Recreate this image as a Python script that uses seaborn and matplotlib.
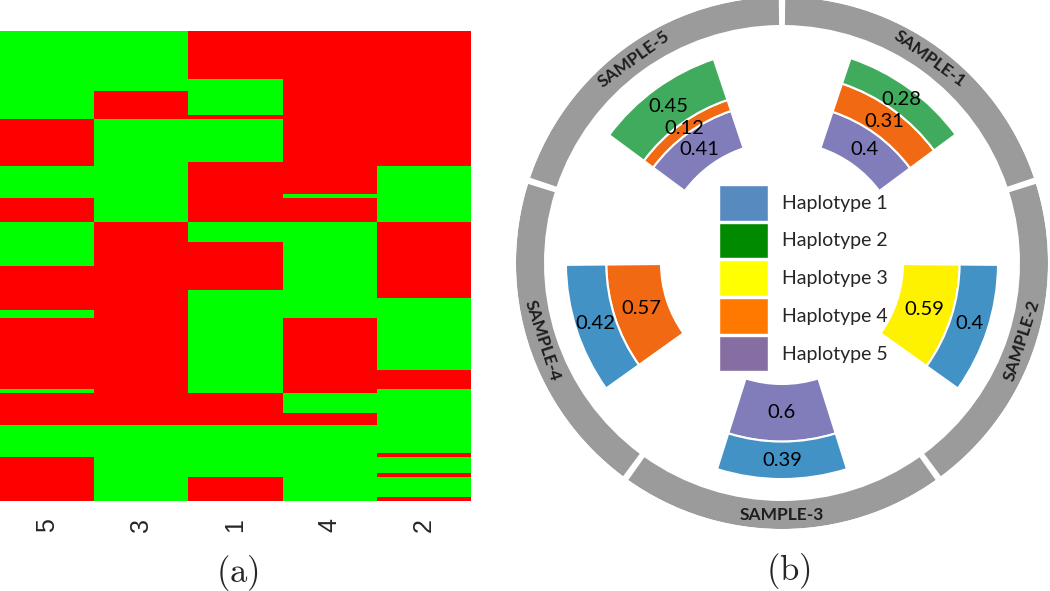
import numpy as np
import matplotlib
matplotlib.use('Agg')
import matplotlib.pyplot as plt
from matplotlib.colors import ListedColormap
from matplotlib.patches import Patch
import seaborn as sns

# ---- (a) heatmap: per column, runs of (value, number of rows); 1 = red, 0 = green
col_labels = ['5', '3', '1', '4', '2']
runs_5 = [(0, 22), (1, 12), (0, 8), (1, 6), (0, 11), (1, 11), (0, 2), (1, 18), (0, 1), (1, 8), (0, 8), (1, 11)]
runs_3 = [(0, 15), (1, 7), (0, 26), (1, 51), (0, 19)]
runs_1 = [(1, 12), (0, 9), (1, 1), (0, 11), (1, 15), (0, 5), (1, 12), (0, 26), (1, 8), (0, 13), (1, 6)]
runs_4 = [(1, 41), (0, 1), (1, 6), (0, 24), (1, 19), (0, 5), (1, 3), (0, 19)]
runs_2 = [(1, 34), (0, 14), (1, 19), (0, 18), (1, 5), (0, 16), (1, 1), (0, 4), (1, 1), (0, 5), (1, 1)]

# ---- (b) circular haplotype chart
samples = ['SAMPLE-1', 'SAMPLE-2', 'SAMPLE-3', 'SAMPLE-4', 'SAMPLE-5']
# haplotypes stacked from the inside out, with their fractions
stack_haps = [[5, 4, 2], [3, 1], [5, 1], [4, 1], [5, 4, 2]]
stack_vals = [[0.40, 0.31, 0.28], [0.59, 0.40], [0.60, 0.39], [0.57, 0.42], [0.41, 0.12, 0.45]]
hap_labels = ['Haplotype 1', 'Haplotype 2', 'Haplotype 3', 'Haplotype 4', 'Haplotype 5']

wedge_colors = {1: '#4292C6', 2: '#41AB5D', 3: '#FFF200', 4: '#F16913', 5: '#807DBA'}
legend_colors = ['#578BC0', '#008A00', '#FFFF00', '#FF7800', '#866EA2']

sns.set_style('white')
plt.rcParams['font.family'] = ['Lato', 'DejaVu Sans']
plt.rcParams['mathtext.fontset'] = 'cm'

fig = plt.figure(figsize=(10.5, 5.91), dpi=100)

# heatmap
ax_a = fig.add_axes([0.0, 0.1523, 0.4486, 0.7953])
cols = []
for runs in [runs_5, runs_3, runs_1, runs_4, runs_2]:
    vals = [v for v, n in runs]
    counts = [n for v, n in runs]
    cols.append(np.repeat(vals, counts))
mat = np.column_stack(cols)
sns.heatmap(mat, cmap=ListedColormap(['#00FF00', '#FF0000']), vmin=0, vmax=1,
            cbar=False, xticklabels=col_labels, yticklabels=False, ax=ax_a)
ax_a.tick_params(axis='x', length=0, pad=12, labelrotation=90)
for lab in ax_a.get_xticklabels():
    lab.set_fontfamily('Liberation Sans')
    lab.set_fontsize(18)

# polar chart
unit = 96.0                # pixels per unit fraction
r_in = 121 / unit          # inner radius of the stacks
ring_in, ring_out = 238 / unit, 266 / unit
ax_b = fig.add_axes([0.4914, 0.1049, 0.5067, 0.9002], projection='polar')
ax_b.set_ylim(0, ring_out)
ax_b.axis('off')

wedge_w = np.deg2rad(35)
for i, name in enumerate(samples):
    ang = 54 - 72 * i
    th = np.deg2rad(ang)
    # gray ring segment with its label
    ax_b.bar(th, ring_out - ring_in, width=np.deg2rad(72 - 1.4), bottom=ring_in,
             color='#9B9B9B', linewidth=0)
    rot = ang - 90 if np.sin(th) > 0 else ang + 90
    ax_b.text(th, (ring_in + ring_out) / 2, name, rotation=rot, rotation_mode='anchor',
              ha='center', va='center', fontsize=12.5, fontweight='bold', color='#1E1E1E')
    # stacked haplotype fractions
    base = r_in
    for h, v in zip(stack_haps[i], stack_vals[i]):
        ax_b.bar(th, v, width=wedge_w, bottom=base, color=wedge_colors[h],
                 edgecolor='white', linewidth=1.5)
        ax_b.text(th, base + v / 2, f'{v:g}', ha='center', va='center',
                  fontsize=14.5, color='black')
        base += v

handles = [Patch(facecolor=c, edgecolor='white', linewidth=1) for c in legend_colors]
fig.legend(handles, hap_labels, loc='upper left', bbox_to_anchor=(719 / 1050, 1 - 185 / 591),
           frameon=False, fontsize=14, handlelength=2.5, handleheight=2.45,
           labelspacing=0.1, handletextpad=0.75, borderpad=0, borderaxespad=0)

fig.text(237 / 1050, 1 - 573 / 591, r'$\mathrm{(a)}$', ha='center', va='center', fontsize=25)
fig.text(788 / 1050, 1 - 571 / 591, r'$\mathrm{(b)}$', ha='center', va='center', fontsize=25)

fig.savefig('out.png', dpi=100)
